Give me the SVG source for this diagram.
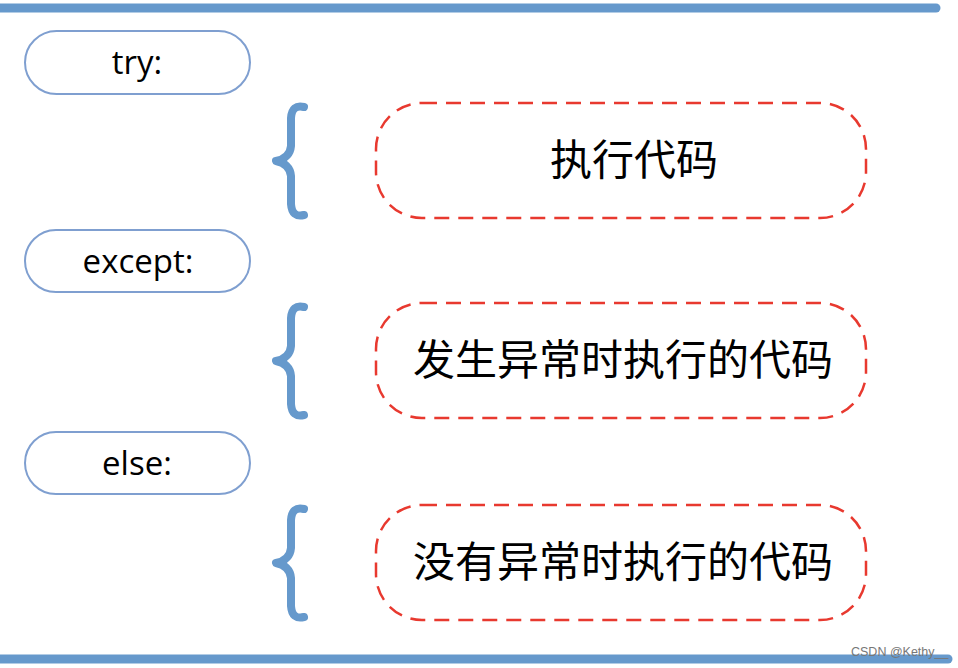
<svg xmlns="http://www.w3.org/2000/svg" width="958" height="668" viewBox="0 0 958 668">
<style>
.bar{fill:none;stroke:#6699cc;stroke-width:9;stroke-linecap:round}
.pill{fill:#fff;stroke:#7f9fd0;stroke-width:2}
.brace{fill:none;stroke:#6699cc;stroke-width:8;stroke-linecap:round;stroke-linejoin:round}
.dash{fill:#fff;stroke:#e8392f;stroke-width:2.5;stroke-dasharray:15 9}
.kw{font-family:"Open Sans","Liberation Sans",sans-serif;font-size:33px;fill:#000;text-anchor:middle}
.cn{font-family:"Noto Sans CJK SC","Noto Sans",sans-serif;font-size:42px;fill:#000;text-anchor:middle}
.wm{font-family:"Liberation Sans",sans-serif;font-size:12.5px;fill:#777}
</style>
<rect width="958" height="668" fill="#fff"/>
<g id="bars">
<line class="bar" x1="0" y1="8" x2="936" y2="8"/>
<line class="bar" x1="0" y1="659" x2="948" y2="659"/>
</g>
<g id="try">
<rect class="pill" x="25" y="31" width="225" height="63" rx="31.5"/>
<text class="kw" x="137" y="74">try:</text>
</g>
<g id="except">
<rect class="pill" x="25" y="230" width="225" height="62" rx="31"/>
<text class="kw" x="138" y="273">except:</text>
</g>
<g id="else">
<rect class="pill" x="25" y="432" width="225" height="62" rx="31"/>
<text class="kw" x="137" y="475">else:</text>
</g>
<g id="brace1"><path class="brace" d="M304 107 Q292 104 291 118 L291 146 Q290 158 276 161 Q290 164 291 176 L291 204 Q292 218 304 215"/></g>
<g id="brace2"><path class="brace" d="M304 307 Q292 304 291 318 L291 346 Q290 358 276 361 Q290 364 291 376 L291 404 Q292 418 304 415"/></g>
<g id="brace3"><path class="brace" d="M304 509 Q292 506 291 520 L291 548 Q290 560 276 563 Q290 566 291 578 L291 606 Q292 620 304 617"/></g>
<g id="box1">
<rect class="dash" x="376" y="103" width="490" height="115" rx="46"/>
<text class="cn" x="634" y="175">执行代码</text>
</g>
<g id="box2">
<rect class="dash" x="376" y="303" width="490" height="115" rx="46"/>
<text class="cn" x="623" y="375">发生异常时执行的代码</text>
</g>
<g id="box3">
<rect class="dash" x="376" y="505" width="490" height="115" rx="46"/>
<text class="cn" x="623" y="577">没有异常时执行的代码</text>
</g>
<g id="connectors"></g>
<text class="wm" x="851" y="656">CSDN @Kethy__</text>
</svg>
